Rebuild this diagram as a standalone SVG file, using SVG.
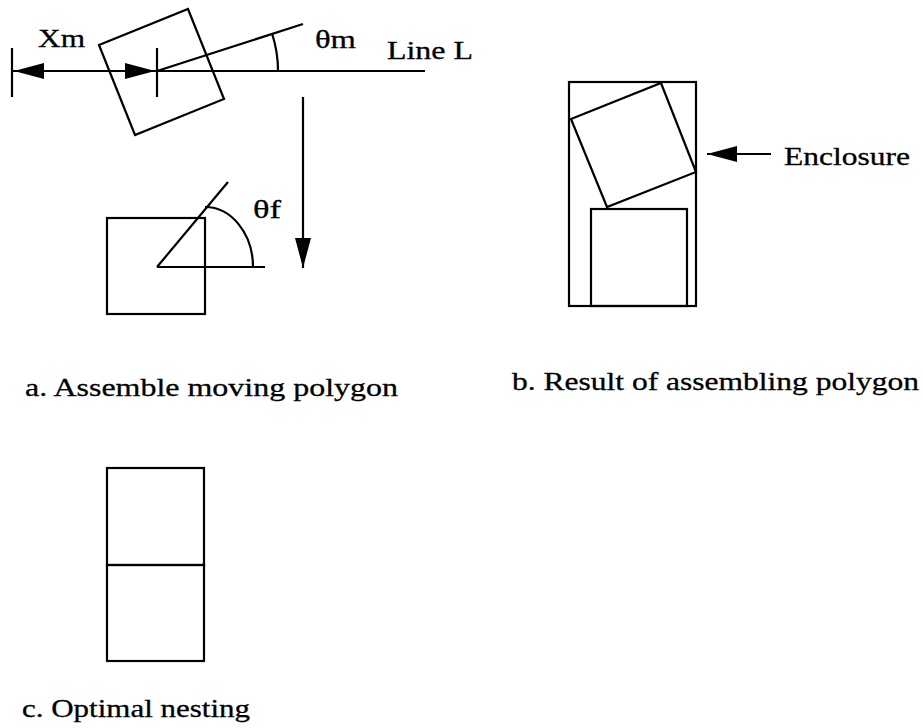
<svg xmlns="http://www.w3.org/2000/svg" width="923" height="728" viewBox="0 0 923 728">
<style>
.s{fill:none;stroke:#000;stroke-width:2.2;stroke-linejoin:miter}
.t{font-family:"Liberation Serif","Times New Roman",serif;font-size:26px;fill:#000;stroke:#000;stroke-width:0.3}
</style>
<defs>
<marker id="ah" viewBox="0 0 30 16" refX="30" refY="8" markerWidth="30" markerHeight="16" markerUnits="userSpaceOnUse" orient="auto">
<path d="M0,0 L30,8 L0,16 Z" fill="#000"/>
</marker>
</defs>
<rect width="923" height="728" fill="#fff"/>
<g id="part-a">
<g id="moving-polygon">
<polygon class="s" points="99,45 188,9 224,99 135,135"/>
</g>
<g id="line-L">
<line class="s" x1="12" y1="71" x2="425" y2="71"/>
<line class="s" x1="12" y1="48" x2="12" y2="97"/>
<line class="s" x1="157" y1="48" x2="157" y2="97"/>
<line class="s" x1="157" y1="71" x2="303" y2="24"/>
<path class="s" d="M272.2,34 A121,121 0 0 1 278,71"/>
<text class="t" x="38" y="47" textLength="47" lengthAdjust="spacingAndGlyphs">Xm</text>
<text class="t" x="315" y="48" textLength="41" lengthAdjust="spacingAndGlyphs">θm</text>
<text class="t" x="387" y="59" textLength="86" lengthAdjust="spacingAndGlyphs">Line L</text>
</g>
<g id="final-polygon">
<rect class="s" x="107" y="218" width="98" height="96"/>
<line class="s" x1="157" y1="267" x2="228" y2="182"/>
<line class="s" x1="157" y1="267" x2="265" y2="267"/>
<path class="s" d="M205,207 A48,60 0 0 1 253,267"/>
<text class="t" x="253" y="218" textLength="28" lengthAdjust="spacingAndGlyphs">θf</text>
</g>
<text id="label-a" class="t" x="25" y="396" textLength="373" lengthAdjust="spacingAndGlyphs">a. Assemble moving polygon</text>
</g>
<g id="part-b">
<g id="enclosure">
<rect class="s" x="569" y="82" width="127" height="224"/>
</g>
<g id="rotated-polygon">
<polygon class="s" points="571,119 661,83 696,172 607,207"/>
</g>
<g id="placed-polygon">
<rect class="s" x="591" y="209" width="96" height="97"/>
</g>
<text id="enclosure-label" class="t" x="784" y="165" textLength="126" lengthAdjust="spacingAndGlyphs">Enclosure</text>
<text id="label-b" class="t" x="512" y="390" textLength="407" lengthAdjust="spacingAndGlyphs">b. Result of assembling polygon</text>
</g>
<g id="part-c">
<g id="nest-top"><rect class="s" x="107" y="468" width="97" height="97"/></g>
<g id="nest-bottom"><rect class="s" x="107" y="565" width="97" height="96"/></g>
<text id="label-c" class="t" x="22" y="717" textLength="228" lengthAdjust="spacingAndGlyphs">c. Optimal nesting</text>
</g>
<g id="connectors">
<line class="s" x1="80" y1="71" x2="14" y2="71" marker-end="url(#ah)"/>
<line class="s" x1="100" y1="71" x2="155" y2="71" marker-end="url(#ah)"/>
<line class="s" x1="303" y1="97" x2="303" y2="268" marker-end="url(#ah)"/>
<line class="s" x1="771" y1="154" x2="707" y2="154" marker-end="url(#ah)"/>
</g>
</svg>
